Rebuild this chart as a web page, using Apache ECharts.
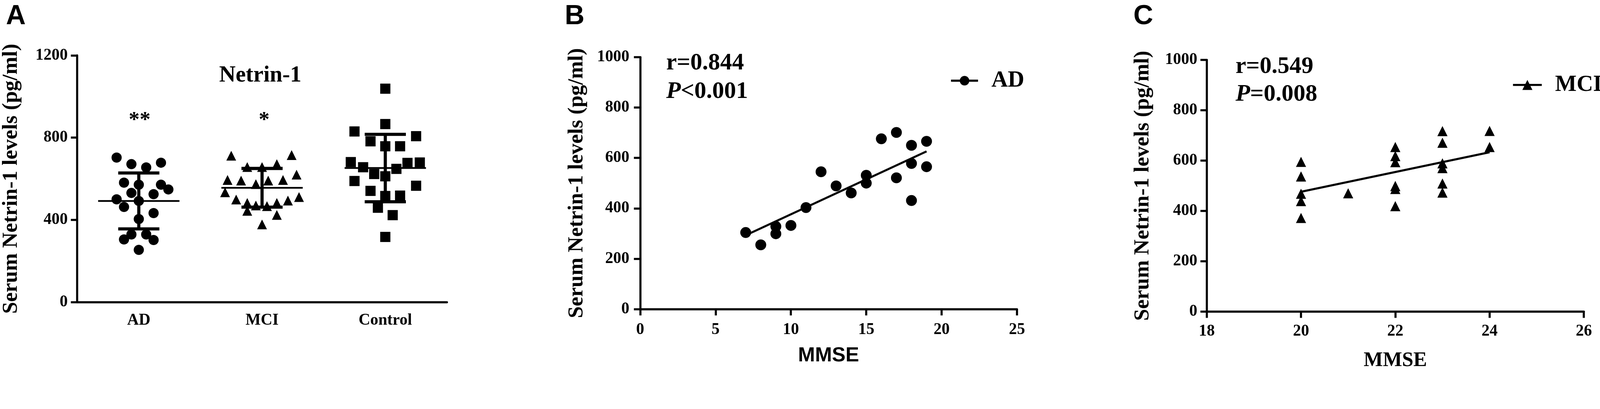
<!DOCTYPE html>
<html style="height: 100%">
<head>
<meta charset="utf-8">
</head>
<body style="height: 100%; margin: 0; background: #fff">
<div id="container" style="width: 100%; height: 100%"></div>
<script src="https://cdn.jsdelivr.net/npm/echarts@6/dist/echarts.min.js"></script>
<script>
// panel A: serum netrin-1 per group (x offsets = horizontal spread inside a group, in category widths)
var groups = ['AD', 'MCI', 'Control'];
var adVals = [703, 671, 655, 678, 581, 571, 571, 548, 531, 525, 500, 492, 463, 433, 404, 329, 329, 305, 302, 254];
var adOffsets = [-0.18, -0.06, 0.06, 0.18, -0.12, 0, 0.18, 0.24, -0.06, 0.12, -0.18, 0, -0.12, 0.12, 0, -0.06, 0.06, -0.12, 0.12, 0];
var mciVals = [712, 715, 657, 657, 671, 594, 591, 574, 591, 594, 620, 534, 511, 499, 482, 470, 467, 482, 494, 444, 424, 378];
var mciOffsets = [-0.25, 0.24, -0.12, 0, 0.12, -0.28, -0.17, -0.05, 0.05, 0.17, 0.28, -0.3, 0.3, -0.21, -0.12, -0.05, 0.04, 0.12, 0.21, -0.12, 0.12, 0];
var ctrlVals = [1038, 866, 830, 807, 782, 758, 758, 681, 677, 679, 656, 648, 623, 612, 589, 566, 541, 516, 518, 459, 423, 317];
var ctrlOffsets = [0, 0, -0.25, 0.25, -0.12, 0, 0.12, -0.28, 0.18, 0.28, -0.18, 0.09, -0.09, 0, -0.25, 0.25, -0.12, 0, 0.12, -0.06, 0.06, 0];
var groupMean = [492, 556, 652];
var groupSD = [136, 94, 164];

// panel B: AD, MMSE vs netrin-1
var adMMSE = [7, 8, 9, 9, 10, 11, 12, 13, 14, 15, 15, 16, 17, 17, 18, 18, 18, 19, 19];
var adNetrin = [304, 255, 328, 299, 332, 403, 545, 489, 461, 531, 500, 676, 701, 521, 650, 578, 431, 666, 565];
var adFit = [[7, 293], [19, 626]];

// panel C: MCI, MMSE vs netrin-1
var mciMMSE = [20, 20, 20, 20, 20, 21, 22, 22, 22, 22, 22, 22, 23, 23, 23, 23, 23, 23, 24, 24];
var mciNetrin = [595, 537, 468, 439, 372, 470, 654, 618, 594, 499, 487, 419, 717, 671, 589, 570, 509, 473, 718, 654];
var mciFit = [[20, 476], [24, 633]];

var serif = 'Liberation Serif';
var sans = 'Liberation Sans';

var dom = document.getElementById('container');
var myChart = echarts.init(dom);

// layout below is measured on the 4561 px wide figure; scale it to the real container
var k = dom.clientWidth / 4561;
function S(v) { return v * k; }

function spread(vals, offs, idx) {
    return vals.map(function (v, i) { return [idx + offs[i], v]; });
}
function pairs(xs, ys) {
    return xs.map(function (x, i) { return [x, ys[i]]; });
}
function plain(v) { return String(v); }

var axisLine = { onZero: false, lineStyle: { color: '#000', width: S(6) } };
var axisTick = { length: S(18), lineStyle: { color: '#000', width: S(6) } };
function tickLabels(margin) {
    return { margin: S(margin), formatter: plain, color: '#000', fontFamily: serif, fontWeight: 'bold', fontSize: S(46) };
}
var yName = 'Serum Netrin-1 levels (pg/ml)';
var yNameStyle = { color: '#000', fontFamily: serif, fontWeight: 'bold', fontSize: S(61) };

function txt(x, y, text, size, family, align, rich) {
    var st = {
        text: text, x: 0, y: 0, fill: '#000',
        font: 'bold ' + S(size) + 'px "' + family + '"',
        align: align || 'left', verticalAlign: 'middle'
    };
    if (rich) st.rich = rich;
    return { type: 'text', x: S(x), y: S(y), style: st, silent: true };
}
function richP(size) {
    return {
        i: { fontStyle: 'italic', fontWeight: 'bold', fontSize: S(size), fontFamily: serif, fill: '#000' },
        n: { fontWeight: 'bold', fontSize: S(size), fontFamily: serif, fill: '#000' }
    };
}

var option = {
    animation: false,
    backgroundColor: '#fff',
    grid: [
        { left: S(220), top: S(158), width: S(1054), height: S(704) },
        { left: S(1825), top: S(163), width: S(1074), height: S(719) },
        { left: S(3440), top: S(171), width: S(1075), height: S(718) }
    ],
    xAxis: [
        {
            gridIndex: 0, type: 'category', data: groups, boundaryGap: true,
            axisLine: axisLine, axisTick: { alignWithLabel: true, length: S(18), lineStyle: { color: '#000', width: S(6) } },
            axisLabel: tickLabels(30), splitLine: { show: false }
        },
        { gridIndex: 0, type: 'value', min: -0.5, max: 2.5, show: false },
        {
            gridIndex: 1, type: 'value', min: 0, max: 25, interval: 5,
            name: 'MMSE', nameLocation: 'middle', nameGap: S(104),
            nameTextStyle: { color: '#000', fontFamily: sans, fontWeight: 'bold', fontSize: S(58) },
            axisLine: axisLine, axisTick: axisTick,
            axisLabel: tickLabels(36), splitLine: { show: false }
        },
        {
            gridIndex: 2, type: 'value', min: 18, max: 26, interval: 2,
            name: 'MMSE', nameLocation: 'middle', nameGap: S(112),
            nameTextStyle: { color: '#000', fontFamily: serif, fontWeight: 'bold', fontSize: S(58) },
            axisLine: axisLine, axisTick: axisTick,
            axisLabel: tickLabels(34), splitLine: { show: false }
        }
    ],
    yAxis: [
        {
            gridIndex: 0, type: 'value', min: 0, max: 1200, interval: 400,
            name: yName, nameLocation: 'middle', nameGap: S(157), nameTextStyle: yNameStyle,
            axisLine: axisLine, axisTick: axisTick,
            axisLabel: tickLabels(27), splitLine: { show: false }
        },
        {
            gridIndex: 1, type: 'value', min: 0, max: 1000, interval: 200,
            name: yName, nameLocation: 'middle', nameGap: S(150), nameTextStyle: yNameStyle,
            axisLine: axisLine, axisTick: axisTick,
            axisLabel: tickLabels(31), splitLine: { show: false }
        },
        {
            gridIndex: 2, type: 'value', min: 0, max: 1000, interval: 200,
            name: yName, nameLocation: 'middle', nameGap: S(151), nameTextStyle: yNameStyle,
            axisLine: axisLine, axisTick: axisTick,
            axisLabel: tickLabels(27), splitLine: { show: false }
        }
    ],
    legend: [
        {
            data: ['AD'], left: S(2708), top: S(198), padding: 0,
            itemWidth: S(77), itemHeight: S(34),
            lineStyle: { width: S(6), color: '#000' },
            formatter: function (n) { return '  ' + n; },
            textStyle: { color: '#000', fontFamily: serif, fontWeight: 'bold', fontSize: S(65) }
        },
        {
            data: ['MCI'], left: S(4310), top: S(210), padding: 0,
            itemWidth: S(82), itemHeight: S(36),
            lineStyle: { width: S(6), color: '#000' },
            formatter: function (n) { return '  ' + n; },
            textStyle: { color: '#000', fontFamily: serif, fontWeight: 'bold', fontSize: S(65) }
        }
    ],
    graphic: [
        txt(17, 47, 'A', 78, sans),
        txt(1610, 47, 'B', 78, sans),
        txt(3231, 47, 'C', 78, sans),
        txt(742, 216, 'Netrin-1', 65, serif, 'center'),
        txt(398, 344, '**', 62, serif, 'center'),
        txt(753, 344, '*', 62, serif, 'center'),
        txt(1899, 181, 'r=0.844', 68, serif),
        txt(1899, 262, '{i|P}{n|<0.001}', 68, serif, 'left', richP(68)),
        txt(3522, 191, 'r=0.549', 68, serif),
        txt(3522, 270, '{i|P}{n|=0.008}', 68, serif, 'left', richP(68))
    ],
    series: [
        {
            type: 'custom', xAxisIndex: 1, yAxisIndex: 0, silent: true,
            data: groupMean.map(function (m, i) { return [i, m, groupSD[i]]; }),
            renderItem: function (params, api) {
                var i = api.value(0), m = api.value(1), sd = api.value(2);
                var c = api.coord([i, m]);
                var hi = api.coord([i, m + sd]);
                var lo = api.coord([i, m - sd]);
                var band = api.size([1, 0])[0];
                var mw = band * 0.33, cw = band * 0.167;
                var thin = { stroke: '#000', lineWidth: S(5) };
                var thick = { stroke: '#000', lineWidth: S(9) };
                return {
                    type: 'group', children: [
                        { type: 'line', shape: { x1: c[0] - mw, y1: c[1], x2: c[0] + mw, y2: c[1] }, style: thin },
                        { type: 'line', shape: { x1: c[0], y1: hi[1], x2: c[0], y2: lo[1] }, style: thick },
                        { type: 'line', shape: { x1: c[0] - cw, y1: hi[1], x2: c[0] + cw, y2: hi[1] }, style: thick },
                        { type: 'line', shape: { x1: c[0] - cw, y1: lo[1], x2: c[0] + cw, y2: lo[1] }, style: thick }
                    ]
                };
            }
        },
        {
            name: 'AD group', type: 'scatter', xAxisIndex: 1, yAxisIndex: 0,
            symbol: 'circle', symbolSize: S(29), itemStyle: { color: '#000', opacity: 1 },
            data: spread(adVals, adOffsets, 0)
        },
        {
            name: 'MCI group', type: 'scatter', xAxisIndex: 1, yAxisIndex: 0,
            symbol: 'triangle', symbolSize: S(28), itemStyle: { color: '#000', opacity: 1 },
            data: spread(mciVals, mciOffsets, 1)
        },
        {
            name: 'Control group', type: 'scatter', xAxisIndex: 1, yAxisIndex: 0,
            symbol: 'rect', symbolSize: S(29), itemStyle: { color: '#000', opacity: 1 },
            data: spread(ctrlVals, ctrlOffsets, 2)
        },
        {
            name: 'AD points', type: 'scatter', xAxisIndex: 2, yAxisIndex: 1,
            symbol: 'circle', symbolSize: S(31), itemStyle: { color: '#000', opacity: 1 },
            data: pairs(adMMSE, adNetrin)
        },
        {
            name: 'AD', type: 'line', xAxisIndex: 2, yAxisIndex: 1,
            symbol: 'circle', showSymbol: false, silent: true,
            lineStyle: { color: '#000', width: S(6) }, itemStyle: { color: '#000' },
            data: adFit
        },
        {
            name: 'MCI points', type: 'scatter', xAxisIndex: 3, yAxisIndex: 2,
            symbol: 'triangle', symbolSize: S(29), itemStyle: { color: '#000', opacity: 1 },
            data: pairs(mciMMSE, mciNetrin)
        },
        {
            name: 'MCI', type: 'line', xAxisIndex: 3, yAxisIndex: 2,
            symbol: 'triangle', showSymbol: false, silent: true,
            lineStyle: { color: '#000', width: S(6) }, itemStyle: { color: '#000' },
            data: mciFit
        }
    ]
};

myChart.setOption(option, true);
</script>
</body>
</html>
